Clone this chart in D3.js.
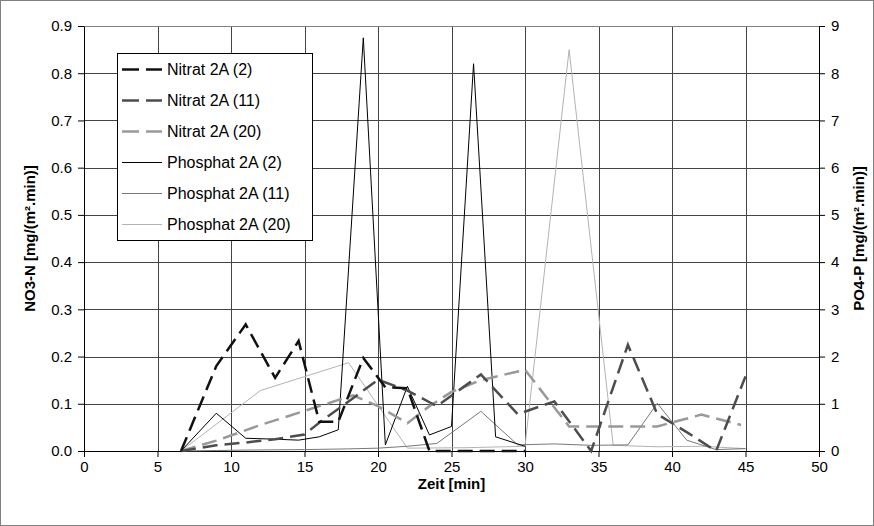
<!DOCTYPE html>
<html>
<head>
<meta charset="utf-8">
<script src="https://cdn.jsdelivr.net/npm/d3@7"></script>
<style>
  body { margin: 0; background: #fff; }
  text { font-family: Arial, "Liberation Sans", sans-serif; }
</style>
</head>
<body>
<div id="chart"></div>
<script>
// Messzeiten (min) je Versuchsreihe
var zeit2  = [6.6, 9, 11, 13, 14.6, 16, 17.3, 19, 20.5, 22, 23.5, 25, 26.5, 28, 30];
var zeit11 = [6.6, 9, 11, 13, 15, 16, 18, 20, 22, 24, 27, 29.5, 32, 34.5, 37, 39, 41, 43, 45];
var zeitN20 = [6.6, 9, 12, 15, 18.3, 20, 22, 23.5, 25, 27, 30, 33, 36, 39, 42, 44.7];
var zeitP20 = [6.6, 12, 18, 22, 26, 30, 33, 36, 39, 42, 45];

// NO3-N [mg/(m².min)] - linke Achse
var nitrat2  = [0, 0.18, 0.268, 0.155, 0.233, 0.062, 0.062, 0.197, 0.135, 0.133, 0, 0, 0, 0, 0];
var nitrat11 = [0, 0.012, 0.018, 0.025, 0.035, 0.06, 0.105, 0.151, 0.128, 0.095, 0.162, 0.078, 0.105, 0, 0.225, 0.078, 0.04, 0, 0.158];
var nitrat20 = [0, 0.022, 0.055, 0.085, 0.118, 0.095, 0.059, 0.095, 0.125, 0.15, 0.172, 0.052, 0.052, 0.052, 0.077, 0.055];

// PO4-P [mg/(m².min)] - rechte Achse
var phosphat2  = [0, 0.8, 0.27, 0.25, 0.23, 0.3, 0.45, 8.75, 0.13, 1.37, 0.34, 0.52, 8.2, 0.3, 0.1];
var phosphat11 = [0, 0.01, 0.02, 0.025, 0.03, 0.035, 0.045, 0.06, 0.1, 0.16, 0.84, 0.13, 0.15, 0.12, 0.13, 1.01, 0.23, 0.03, 0.05];
var phosphat20 = [0, 1.28, 1.87, 0.06, 0.07, 0.1, 8.5, 0.12, 0.09, 0.1, 0.05];

var xTicks = d3.range(0, 51, 5);
var yLeftTicks = d3.range(0, 10).map(function(i) { return i / 10; });
var yRightTicks = d3.range(0, 10);

var W = 874, H = 526;
var margin = { top: 26, right: 55, bottom: 75, left: 84 },
  width = W - margin.left - margin.right,
  height = H - margin.top - margin.bottom;

var root = d3.select("#chart")
  .append("svg")
  .attr("width", W)
  .attr("height", H);

// Rahmen um das ganze Diagramm
root.append("rect")
  .attr("x", 0.5).attr("y", 0.5)
  .attr("width", W - 1).attr("height", H - 1)
  .attr("fill", "#fff")
  .attr("stroke", "#808080");

var svg = root.append("g")
  .attr("transform", "translate(" + margin.left + "," + margin.top + ")");

var x = d3.scaleLinear().domain([0, 50]).range([0, width]);
var yL = d3.scaleLinear().domain([0, 0.9]).range([height, 0]);
var yR = d3.scaleLinear().domain([0, 9]).range([height, 0]);

// Gitternetz
svg.selectAll(".hgrid")
  .data(yLeftTicks.slice(1))
  .enter().append("line")
  .attr("x1", 0).attr("x2", width)
  .attr("y1", function(d) { return Math.round(yL(d)) + 0.5; })
  .attr("y2", function(d) { return Math.round(yL(d)) + 0.5; })
  .attr("stroke", "#444");

svg.selectAll(".vgrid")
  .data(xTicks.slice(1))
  .enter().append("line")
  .attr("y1", 0).attr("y2", height)
  .attr("x1", function(d) { return Math.round(x(d)) + 0.5; })
  .attr("x2", function(d) { return Math.round(x(d)) + 0.5; })
  .attr("stroke", "#444");

svg.append("rect")
  .attr("x", 0.5).attr("y", 0.5)
  .attr("width", width).attr("height", height)
  .attr("fill", "none")
  .attr("stroke", "#808080");

// Achsen
function styleAxis(g) {
  g.selectAll("path").attr("stroke", "#000");
  g.selectAll("line").attr("stroke", "#000");
  g.selectAll("text").attr("font-size", "15px").attr("fill", "#000");
}

svg.append("g")
  .attr("transform", "translate(0," + height + ")")
  .call(d3.axisBottom(x).tickValues(xTicks).tickSize(6).tickSizeOuter(0).tickPadding(4))
  .call(styleAxis);

svg.append("g")
  .call(d3.axisLeft(yL).tickValues(yLeftTicks).tickFormat(d3.format(".1f")).tickSize(6).tickSizeOuter(0).tickPadding(6))
  .call(styleAxis);

svg.append("g")
  .attr("transform", "translate(" + width + ",0)")
  .call(d3.axisRight(yR).tickValues(yRightTicks).tickSize(6).tickSizeOuter(0).tickPadding(6))
  .call(styleAxis);

// Datenreihen
var series = [
  { name: "Nitrat 2A (2)",     t: zeit2,   v: nitrat2,    y: yL, color: "#111111", w: 2.5, dash: "15,7" },
  { name: "Nitrat 2A (11)",    t: zeit11,  v: nitrat11,   y: yL, color: "#4d4d4d", w: 2.5, dash: "15,7" },
  { name: "Nitrat 2A (20)",    t: zeitN20, v: nitrat20,   y: yL, color: "#999999", w: 2.5, dash: "15,7" },
  { name: "Phosphat 2A (2)",   t: zeit2,   v: phosphat2,  y: yR, color: "#000000", w: 1,   dash: null },
  { name: "Phosphat 2A (11)",  t: zeit11,  v: phosphat11, y: yR, color: "#777777", w: 1,   dash: null },
  { name: "Phosphat 2A (20)",  t: zeitP20, v: phosphat20, y: yR, color: "#b3b3b3", w: 1,   dash: null }
];

// Phosphat zuerst, damit Nitrat oben liegt
var drawOrder = [5, 4, 3, 2, 1, 0];
drawOrder.forEach(function(i) {
  var s = series[i];
  var line = d3.line()
    .x(function(d) { return x(d[0]); })
    .y(function(d) { return s.y(d[1]); });
  svg.append("path")
    .datum(d3.zip(s.t, s.v))
    .attr("d", line)
    .attr("fill", "none")
    .attr("stroke", s.color)
    .attr("stroke-width", s.w)
    .attr("stroke-dasharray", s.dash)
    .attr("stroke-linejoin", "miter");
});

// Legende
var leg = root.append("g").attr("transform", "translate(117,53)");
leg.append("rect")
  .attr("x", 0.5).attr("y", 0.5)
  .attr("width", 195).attr("height", 187)
  .attr("fill", "#fff")
  .attr("stroke", "#000");

series.forEach(function(s, i) {
  var yy = 16.5 + i * 31;
  leg.append("line")
    .attr("x1", 5).attr("x2", 45)
    .attr("y1", yy).attr("y2", yy)
    .attr("stroke", s.color)
    .attr("stroke-width", s.w)
    .attr("stroke-dasharray", s.dash ? "17,7" : null);
  leg.append("text")
    .attr("x", 50).attr("y", yy)
    .attr("dy", "0.35em")
    .attr("font-size", "16px")
    .attr("fill", "#000")
    .text(s.name);
});

// Achsentitel
root.append("text")
  .attr("transform", "translate(" + (margin.left + width / 2) + "," + 489 + ")")
  .text("Zeit [min]")
  .style("text-anchor", "middle")
  .attr("font-size", "15px")
  .attr("font-weight", "bold");

root.append("text")
  .attr("transform", "translate(" + 35 + "," + (margin.top + height / 2) + ")rotate(-90)")
  .text("NO3-N [mg/(m².min)]")
  .style("text-anchor", "middle")
  .attr("font-size", "15px")
  .attr("font-weight", "bold");

root.append("text")
  .attr("transform", "translate(" + 864 + "," + (margin.top + height / 2) + ")rotate(-90)")
  .text("PO4-P [mg/(m².min)]")
  .style("text-anchor", "middle")
  .attr("font-size", "15px")
  .attr("font-weight", "bold");
</script>
</body>
</html>
